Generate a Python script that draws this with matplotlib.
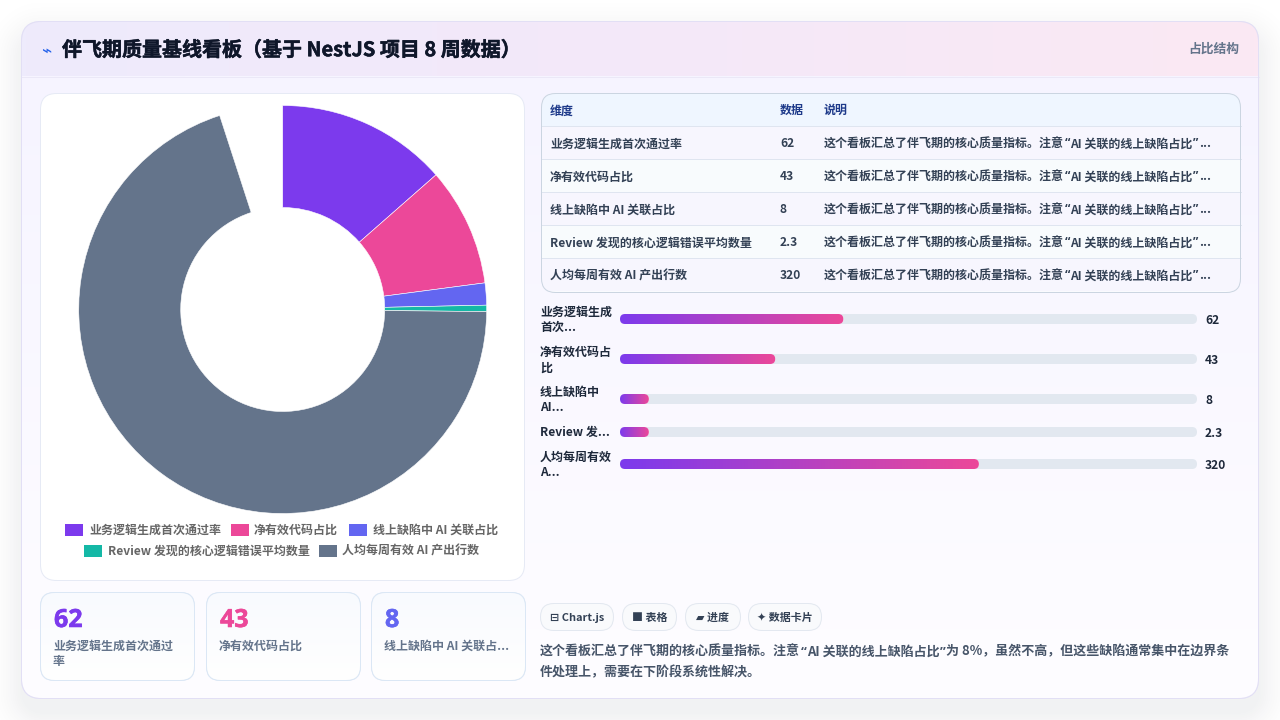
""" Rebuild of the pilot-period quality dashboard """
import re

import matplotlib
matplotlib.use('Agg')
import matplotlib.patheffects as pe
import matplotlib.pyplot as plt
import numpy as np
from matplotlib.colors import LinearSegmentedColormap
from matplotlib.patches import FancyBboxPatch, Rectangle

plt.rcParams['font.family'] = ['Noto Sans CJK SC', 'DejaVu Sans']

categories = ['业务逻辑生成首次通过率', '净有效代码占比', '线上缺陷中 AI 关联占比',
              'Review 发现的核心逻辑错误平均数量', '人均每周有效 AI 产出行数']
values = [62, 43, 8, 2.3, 320]
value_labels = ['62', '43', '8', '2.3', '320']
colors = ['#7c3aed', '#ec4899', '#6366f1', '#14b8a6', '#64748b']
pie_share = 0.95

note_short = '这个看板汇总了伴飞期的核心质量指标。注意“AI 关联的线上缺陷占比”...'
note_lines = ['这个看板汇总了伴飞期的核心质量指标。注意“AI 关联的线上缺陷占比”为 8%，虽然不高，但这些缺陷通常集中在边界条',
              '件处理上，需要在下阶段系统性解决。']

bar_labels = [['业务逻辑生成', '首次...'], ['净有效代码占', '比'], ['线上缺陷中', 'AI...'],
              ['Review 发...'], ['人均每周有效', 'A...']]
bar_fill = [38.7, 26.9, 5, 5, 62.2]
bar_rows = [319, 359, 399, 432, 464]

stat_labels = [['业务逻辑生成首次通过', '率'], ['净有效代码占比'], ['线上缺陷中 AI 关联占...']]
chips = ['⊟ Chart.js', '■ 表格', '▰ 进度', '✦ 数据卡片']
chip_spans = [(540, 614), (622, 677), (685, 741), (748, 822)]


def rounded(ax, x0, y0, x1, y1, r, fc, ec='none', lw=0.72, z=1):
    # half pixel inset keeps a 1px border crisp
    x0, y0, x1, y1 = x0 + 0.5, y0 + 0.5, x1 - 0.5, y1 - 0.5
    patch = FancyBboxPatch((x0 + r, y0 + r), x1 - x0 - 2 * r, y1 - y0 - 2 * r,
                           boxstyle=f'round,pad={r},rounding_size={r}',
                           fc=fc, ec=ec, lw=lw, zorder=z)
    ax.add_patch(patch)
    return patch


def gradient(ax, extent, c0, c1, clip, z=2, vertical=False):
    cmap = LinearSegmentedColormap.from_list('g', [c0, c1])
    grad = np.linspace(0, 1, 256).reshape(-1, 1) if vertical else np.linspace(0, 1, 256).reshape(1, -1)
    im = ax.imshow(grad, extent=extent, cmap=cmap, aspect='auto', zorder=z, interpolation='bilinear')
    im.set_clip_path(clip)


def label(ax, x, y, s, px, color, weight='bold', ha='left', z=10, thick=0):
    # y is the middle of the line in pixels
    t = ax.text(x, y + px * 0.36, s, fontsize=px * 0.72, color=color, fontweight=weight,
                ha=ha, va='baseline', zorder=z)
    if thick:
        t.set_path_effects([pe.withStroke(linewidth=thick, foreground=color)])
    return t


def quoted(ax, x, y, s, px, color, z=5):
    # the reference has narrow latin quotes, the CJK font only has full width ones
    renderer = fig.canvas.get_renderer()
    for part in re.split('([“”])', s):
        if not part:
            continue
        t = label(ax, x, y, part, px, color, z=z)
        if part in '“”':
            t.set_fontfamily(['Open Sans', 'DejaVu Sans'])
        box = t.get_window_extent(renderer)
        x = box.x1 + 0.5


fig = plt.figure(figsize=(12.8, 7.2), dpi=100, facecolor='#ffffff')
ax = fig.add_axes([0, 0, 1, 1])
ax.axis('off')
ax.set_xlim(0, 1280)
ax.set_ylim(720, 0)

# page background and soft shadow
yy, xx = np.mgrid[0:720, 0:1280]
dx = np.maximum(np.abs(xx - 640) - (619 - 20), 0)
dy = np.maximum(np.abs(yy - 374) - (339 - 20), 0)
dist = np.hypot(dx, dy) - 20
shadow = 0.055 * np.clip(1 - dist / 45, 0, 1) ** 2
rgba = np.zeros((720, 1280, 4))
rgba[..., :3] = (0.06, 0.09, 0.16)
rgba[..., 3] = shadow
ax.imshow(rgba, extent=(0, 1280, 720, 0), aspect='auto', zorder=0)

# main panel
panel = rounded(ax, 21, 21, 1259, 699, 20, '#fbfaff', '#e2dff5', z=1)
gradient(ax, (21, 1259, 699, 76), '#f6f4ff', '#fefdff', panel, z=1.5, vertical=True)
header_clip = rounded(ax, 21, 21, 1259, 699, 20, 'none', 'none', z=1.6)
cmap = LinearSegmentedColormap.from_list('h', ['#eeebfc', '#f4e8f9', '#fbe8f3'])
im = ax.imshow(np.linspace(0, 1, 256).reshape(1, -1), extent=(21, 1259, 76, 21), cmap=cmap,
               aspect='auto', zorder=1.7)
im.set_clip_path(header_clip)
ax.plot([21, 1259], [76.5, 76.5], color='#ebe8f7', lw=0.72, zorder=1.8)
rounded(ax, 21, 21, 1259, 699, 20, 'none', '#e2dff5', z=1.9)

label(ax, 41, 50, '⌁', 17, '#2563eb', weight='normal')
label(ax, 62, 49, '伴飞期质量基线看板（基于 NestJS 项目 8 周数据）', 20, '#0f172a', thick=0.35)
label(ax, 1239, 48, '占比结构', 12.8, '#64748b', ha='right')

# chart card
rounded(ax, 40, 93, 525, 581, 16, '#ffffff', '#e6eaf5', z=3)

# legend
legend_rows = [(524, [(65, 89, 0), (231, 254, 1), (349, 373, 2)]),
               (545, [(84, 108, 3), (319, 342, 4)])]
for top, items in legend_rows:
    for sw, tx, i in items:
        ax.add_patch(Rectangle((sw, top), 18, 12, fc=colors[i], ec='none', zorder=4))
        label(ax, tx, top + 5.5, categories[i], 12, '#666666', z=5)

# stat cards
stat_boxes = [(40, 195), (206, 361), (371, 526)]
for i, (x0, x1) in enumerate(stat_boxes):
    card = rounded(ax, x0, 592, x1, 681, 14, '#ffffff', '#dbe7f5', z=3)
    gradient(ax, (x0, x1, 681, 592), '#f8fafe', '#ffffff', card, z=3.1, vertical=True)
    rounded(ax, x0, 592, x1, 681, 14, 'none', '#dbe7f5', z=3.2)
    num = label(ax, x0 + 14, 618, value_labels[i], 25, colors[i], z=5, thick=0.4)
    num.set_fontfamily(['Open Sans', 'DejaVu Sans'])
    for j, line in enumerate(stat_labels[i]):
        label(ax, x0 + 13, 645 + j * 16, line, 12, '#64748b', z=5)

# table
table = rounded(ax, 541, 93, 1241, 293, 14, '#fafbfe', 'none', z=3)
ax.add_patch(Rectangle((541, 93), 700, 33, fc='#eff6ff', ec='none', zorder=3.1,
                       clip_path=table))
row_tops = [126, 159, 192, 225, 258]
for k, top in enumerate(row_tops):
    fc = '#f7f6fe' if k % 2 == 0 else '#f8fbfd'
    ax.add_patch(Rectangle((541, top), 700, 33, fc=fc, ec='none', zorder=3.1, clip_path=table))
    ax.plot([541, 1241], [top - 0.5, top - 0.5], color='#dfe5f0', lw=0.72, zorder=3.2)
rounded(ax, 541, 93, 1241, 293, 14, 'none', '#cbd5e1', z=3.3)
for x, head in zip((550, 780, 824), ('维度', '数据', '说明')):
    label(ax, x, 110, head, 12, '#1e3a8a', z=5)
for k, top in enumerate(row_tops):
    label(ax, 550, top + 17, categories[k], 12, '#334155', z=5)
    label(ax, 780, top + 17, value_labels[k], 12, '#334155', z=5)
    quoted(ax, 824, top + 17, note_short, 12, '#334155')

# bar side labels and values
for y, lines, txt in zip(bar_rows, bar_labels, value_labels):
    start = y - 7.5 * (len(lines) - 1)
    for j, line in enumerate(lines):
        label(ax, 540, start + j * 15.5, line, 12, '#1e293b', z=5)
    label(ax, 1205, y + 1, txt, 12, '#1e293b', z=5)

# chips and paragraph
for (x0, x1), chip in zip(chip_spans, chips):
    rounded(ax, x0, 603, x1, 631, 13.5, '#f9fafc', '#e3e8f0', z=3)
    label(ax, (x0 + x1) / 2, 617, chip, 11, '#334155', ha='center', z=5)
for y, line in zip((651, 672), note_lines):
    quoted(ax, 540, y, line, 13, '#475569')

ax.set_xlim(0, 1280)
ax.set_ylim(720, 0)

# donut
ax_pie = fig.add_axes([78.7 / 1280, 1 - 513.5 / 720, 408 / 1280, 408 / 720])
ax_pie.patch.set_alpha(0)
fractions = np.array(values) / sum(values) * pie_share
ax_pie.pie(fractions, colors=colors, startangle=90, counterclock=False, normalize=False,
           radius=1, wedgeprops={'width': 0.5, 'edgecolor': '#ffffff', 'linewidth': 0.4})
ax_pie.set_xlim(-1, 1)
ax_pie.set_ylim(-1, 1)

# progress bars, x axis is percent of the track
ax_bar = fig.add_axes([620 / 1280, 1 - 480 / 720, 577 / 1280, 180 / 720])
ax_bar.axis('off')
ax_bar.patch.set_alpha(0)
px_per_pct = 5.77
round_pct = 5 / px_per_pct
for y, pct in zip(bar_rows, bar_fill):
    for w, fc in ((100, '#e2e8f0'), (pct, '#ffffff')):
        patch = FancyBboxPatch((round_pct, y), w - 2 * round_pct, 0,
                               boxstyle=f'round,pad={round_pct},rounding_size={round_pct}',
                               mutation_aspect=px_per_pct, fc=fc, ec='none', zorder=2)
        ax_bar.add_patch(patch)
    gradient(ax_bar, (0, pct, y + 5, y - 5), '#7c3aed', '#ec4899', patch, z=3)
ax_bar.set_xlim(0, 100)
ax_bar.set_ylim(480, 300)

fig.savefig('out.png', dpi=100)
